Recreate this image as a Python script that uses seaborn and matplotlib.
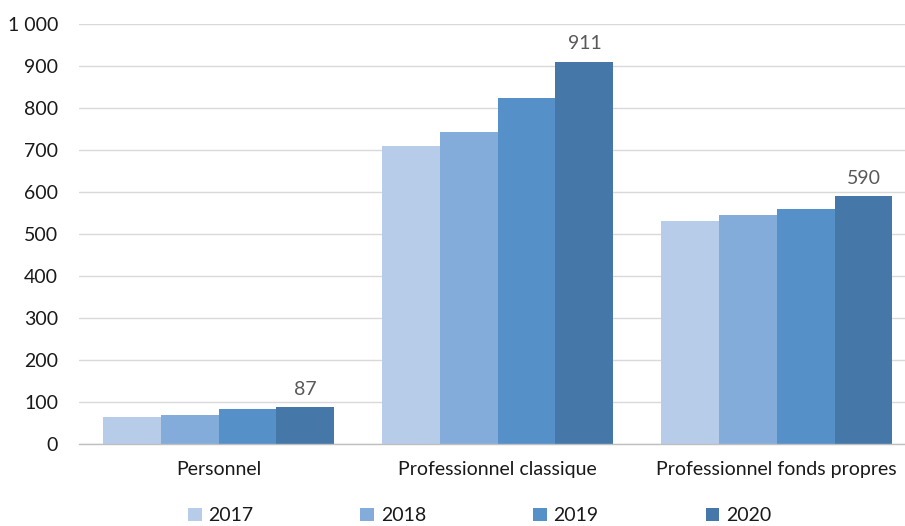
import matplotlib
matplotlib.use("Agg")
import matplotlib.pyplot as plt
import matplotlib.ticker as mticker
import seaborn as sns
import pandas as pd

categories = ["Personnel", "Professionnel classique", "Professionnel fonds propres"]
years = ["2017", "2018", "2019", "2020"]
v2017 = [64, 709, 532]
v2018 = [70, 744, 545]
v2019 = [84, 825, 560]
v2020 = [87, 911, 590]
colors = ["#B7CCE9", "#84ACDA", "#5590C8", "#4577A8"]

rows = []
for year, vals in zip(years, [v2017, v2018, v2019, v2020]):
    for cat, v in zip(categories, vals):
        rows.append({"categorie": cat, "annee": year, "valeur": v})
df = pd.DataFrame(rows)

sns.set_theme(style="white")
plt.rcParams["font.family"] = ["Lato", "DejaVu Sans"]

fs = 14
fig = plt.figure(figsize=(9.05, 5.26), dpi=100)
ax = fig.add_axes([0.0873, 0.156, 0.9127, 0.798])

sns.barplot(data=df, x="categorie", y="valeur", hue="annee", order=categories,
            hue_order=years, palette=colors, width=0.83, gap=0, saturation=1,
            linewidth=0, ax=ax)

ax.set_ylim(0, 1000)
ax.set_xlim(-0.5, 2.46)
ax.set_yticks(range(0, 1001, 100))
ax.yaxis.set_major_formatter(mticker.FuncFormatter(lambda v, p: f"{int(v):,}".replace(",", " ")))
ax.grid(axis="y", color="#D9D9D9", linewidth=1)
ax.set_axisbelow(True)
for s in ["left", "right", "top"]:
    ax.spines[s].set_visible(False)
ax.spines["bottom"].set_color("#BFBFBF")
ax.spines["bottom"].set_linewidth(1)

ax.set_xlabel("")
ax.set_ylabel("")
ax.tick_params(axis="y", length=0, labelsize=fs, labelcolor="#1a1a1a", pad=15)
ax.tick_params(axis="x", which="major", length=0, labelsize=fs, labelcolor="#1a1a1a", pad=12)
ax.set_xticks([-0.5, 0.5, 1.5], minor=True)
ax.tick_params(axis="x", which="minor", length=6, color="#BFBFBF", width=1, direction="out")

# value labels on the latest year
last = ax.containers[-1]
for bar, v in zip(last, v2020):
    ax.annotate(f"{v}", (bar.get_x() + bar.get_width() / 2, bar.get_height()),
                xytext=(0, 7), textcoords="offset points", ha="center", va="bottom",
                fontsize=fs, color="#595959")

leg = ax.legend(loc="center", bbox_to_anchor=(0.485, -0.171), ncol=4, frameon=False,
                fontsize=fs, handlelength=0.7, handleheight=0.7, handletextpad=0.35,
                columnspacing=5.5)
for t in leg.get_texts():
    t.set_color("#1a1a1a")

fig.savefig("out.png", dpi=100)
